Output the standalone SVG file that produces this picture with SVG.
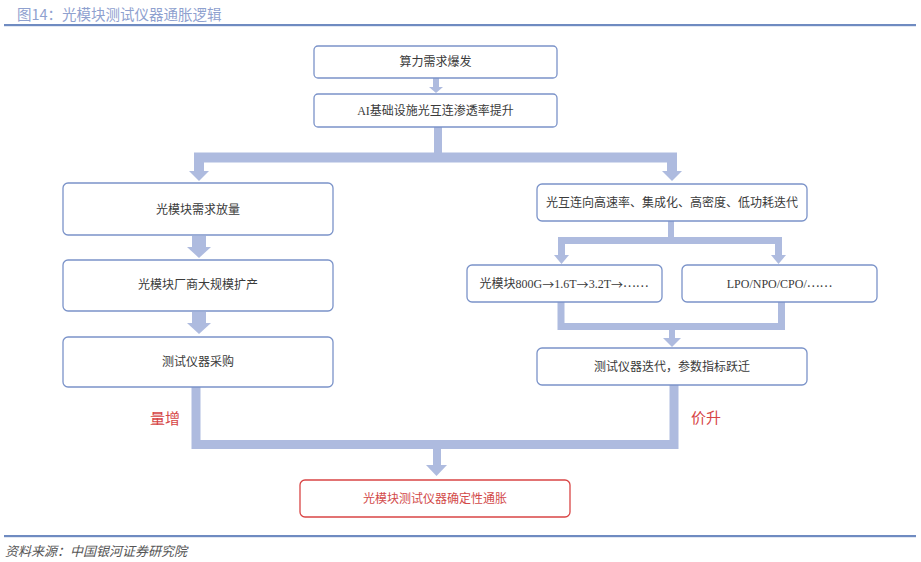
<svg xmlns="http://www.w3.org/2000/svg" width="921" height="562" viewBox="0 0 921 562">
<defs>
<style>
.box{fill:#ffffff;stroke:#7b93c9;stroke-width:1.3}
.rbox{fill:#ffffff;stroke:#d94545;stroke-width:1.3}
.t{font-family:"Liberation Serif","Noto Sans CJK SC",serif;font-size:12px;fill:#3a3a3a;text-anchor:middle;dominant-baseline:central}
.cj{font-family:"Noto Sans CJK SC",sans-serif}
.rt{fill:#d24a4a}
.c{fill:none;stroke:#aebbdf;stroke-linejoin:miter;stroke-linecap:butt}
.h{fill:#aebbdf}
.lab{font-family:"Noto Sans CJK SC",sans-serif;font-size:15px;fill:#d64545;dominant-baseline:central}
</style>
</defs>
<rect width="921" height="562" fill="#ffffff"/>
<text x="17" y="13" font-family="Noto Sans CJK SC, sans-serif" font-size="14.5" fill="#8fa1cf" dominant-baseline="central">图14：光模块测试仪器通胀逻辑</text>
<rect x="4" y="24" width="912" height="2.2" fill="#6f8bc1"/>
<rect x="4" y="535" width="912" height="2.2" fill="#6f8bc1"/>
<text x="5" y="550" font-family="Noto Sans CJK SC, sans-serif" font-size="13" font-style="italic" fill="#555555" dominant-baseline="central">资料来源：中国银河证券研究院</text>

<g id="connectors">
<path class="c" stroke-width="6" d="M436,78 V88"/>
<polygon class="h" points="429,87 443,87 436,93"/>
<path class="c" stroke-width="8" d="M438,127 V157"/>
<path class="c" stroke-width="10" d="M199,172 V157.5 H672 V172"/>
<polygon class="h" points="189,171 209,171 199,181"/>
<polygon class="h" points="662,171 682,171 672,181"/>
<rect class="h" x="192" y="236" width="14" height="12"/>
<polygon class="h" points="187,247 211,247 199,258"/>
<rect class="h" x="192" y="312" width="14" height="12"/>
<polygon class="h" points="187,323 211,323 199,334"/>
<path class="c" stroke-width="6" d="M671,221 V241"/>
<path class="c" stroke-width="7" d="M561.5,256 V240.5 H778.5 V256"/>
<polygon class="h" points="554,255 569,255 561.5,264"/>
<polygon class="h" points="771,255 786,255 778.5,264"/>
<path class="c" stroke-width="7" d="M561,302 V326.5 H781.5 V302"/>
<path class="c" stroke-width="6" d="M672,326 V339"/>
<polygon class="h" points="663,338 681,338 672,347"/>
<path class="c" stroke-width="9" d="M196,387 V444.5 H674 V385"/>
<path class="c" stroke-width="8" d="M437,449 V466"/>
<polygon class="h" points="426,465 447,465 436.5,476"/>
</g>

<g id="n1"><rect class="box" x="314" y="46" width="243" height="32" rx="4"/><text class="t" x="435.5" y="62">算力需求爆发</text></g>
<g id="n2"><rect class="box" x="314" y="94" width="243" height="33" rx="4"/><text class="t" x="435.5" y="111">AI基础设施光互连渗透率提升</text></g>
<g id="n3"><rect class="box" x="63" y="183" width="270" height="52" rx="5"/><text class="t" x="198" y="210">光模块需求放量</text></g>
<g id="n4"><rect class="box" x="63" y="260" width="270" height="51" rx="5"/><text class="t" x="198" y="285">光模块厂商大规模扩产</text></g>
<g id="n5"><rect class="box" x="63" y="337" width="270" height="50" rx="5"/><text class="t" x="198" y="362">测试仪器采购</text></g>
<g id="n6"><rect class="box" x="537" y="184" width="270" height="37" rx="5"/><text class="t" x="672" y="203">光互连向高速率、集成化、高密度、低功耗迭代</text></g>
<g id="n7"><rect class="box" x="467" y="265" width="195" height="37" rx="5"/><text class="t" x="564" y="283.5">光模块800G<tspan class="cj">→</tspan>1.6T<tspan class="cj">→</tspan>3.2T<tspan class="cj">→</tspan><tspan class="cj" dy="-3">……</tspan></text></g>
<g id="n8"><rect class="box" x="682" y="265" width="195" height="37" rx="5"/><text class="t" x="779.5" y="283.5">LPO/NPO/CPO/<tspan class="cj" dy="-3">……</tspan></text></g>
<g id="n9"><rect class="box" x="537" y="348" width="270" height="37" rx="5"/><text class="t" x="672" y="367">测试仪器迭代，参数指标跃迁</text></g>
<g id="n10"><rect class="rbox" x="300" y="480" width="270" height="37" rx="5"/><text class="t rt" x="435" y="498.5">光模块测试仪器确定性通胀</text></g>
<text class="lab" x="150" y="417">量增</text>
<text class="lab" x="691" y="416">价升</text>
</svg>
